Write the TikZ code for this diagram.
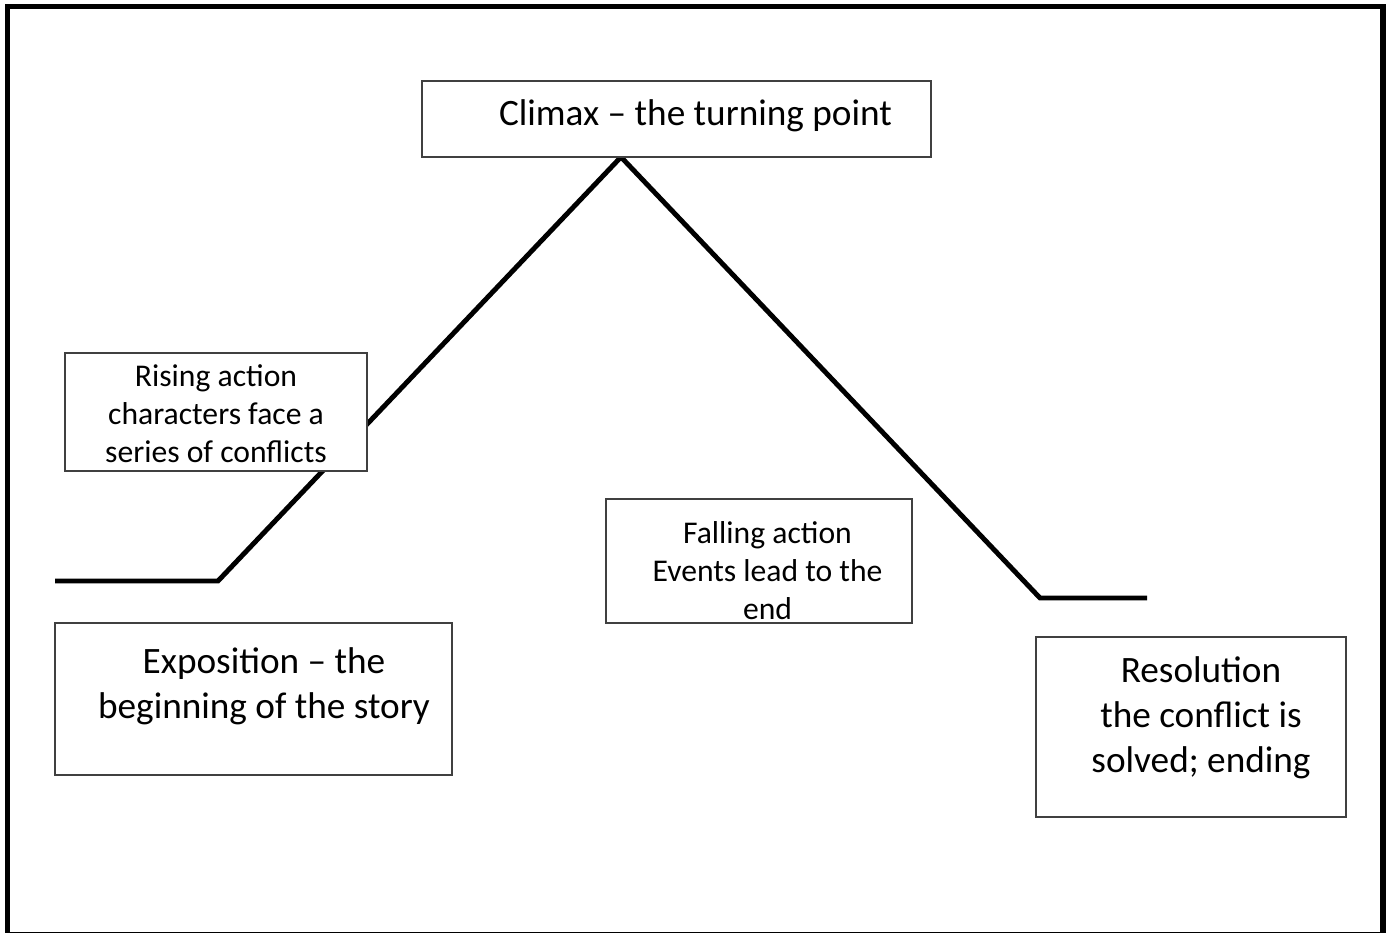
\documentclass[tikz,border=0pt]{standalone}
\usepackage{fontspec}
\setmainfont{Carlito}
\usetikzlibrary{positioning}
\definecolor{boxline}{HTML}{404040}

\begin{document}
\begin{tikzpicture}[
	stage/.style={rectangle, draw=boxline, line width=0.6pt, fill=white, inner sep=0pt},
	bigtext/.style={align=center, font=\fontsize{10.6}{12.8}\selectfont},
	smalltext/.style={align=center, font=\fontsize{9}{10.8}\selectfont},
	plot/.style={line width=1.4pt}]
		\useasboundingbox (0,0) rectangle (13.86,-9.33);
		\draw[line width=1.5pt] (0.075,-0.065) rectangle (13.83,-9.345); % frame
		
		\coordinate (start) at (0.55,-5.81);
		\coordinate (foot) at (2.18,-5.81);
		\coordinate (peak) at (6.21,-1.57);
		\coordinate (base) at (10.40,-5.98);
		\coordinate (finish) at (11.47,-5.98);
		\draw[plot] (start) -- (foot) -- (peak) -- (base) -- (finish);
		
		\node[stage, minimum width=5.09cm, minimum height=0.76cm, label={[bigtext, xshift=0.19cm, yshift=0.03cm]center:{Climax – the turning point}}] (climax) at (6.765,-1.19) {};
		\node[stage, minimum width=3.02cm, minimum height=1.18cm, label={[smalltext, yshift=-0.02cm]center:{Rising action\\characters face a\\series of conflicts}}] (rising) at (2.16,-4.12) {};
		\node[stage, minimum width=3.97cm, minimum height=1.52cm, label={[bigtext, xshift=0.105cm, yshift=0.125cm]center:{Exposition – the\\beginning of the story}}] (expo) at (2.535,-6.99) {};
		\node[stage, minimum width=3.06cm, minimum height=1.24cm, label={[smalltext, xshift=0.085cm, yshift=-0.10cm]center:{Falling action\\Events lead to the\\end}}] (falling) at (7.59,-5.61) {};
		\node[stage, minimum width=3.10cm, minimum height=1.80cm, label={[bigtext, xshift=0.10cm, yshift=0.09cm]center:{Resolution\\the conflict is\\solved; ending}}] (resolution) at (11.91,-7.27) {};
	\end{tikzpicture}
\end{document}
